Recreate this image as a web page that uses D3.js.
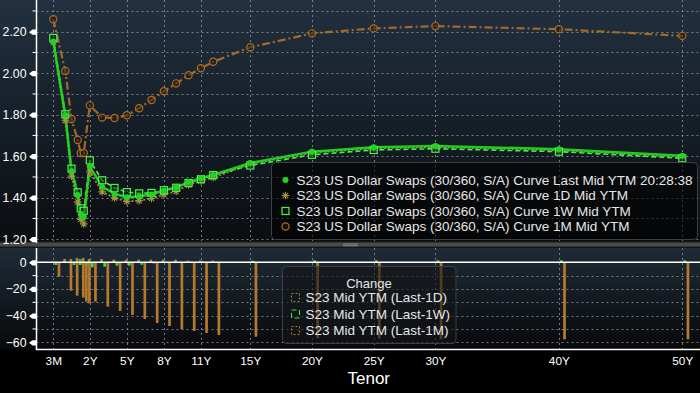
<!DOCTYPE html>
<html><head><meta charset="utf-8">
<script src="https://cdn.jsdelivr.net/npm/d3@7"></script>
<style>html,body{margin:0;padding:0;background:#000;} svg{display:block;} text{font-family:"Liberation Sans",Arial,sans-serif;}</style>
</head><body>
<svg id="c" width="700" height="393"></svg>
<script>
// ---------------- DATA ----------------
const tenorLabels = ["3M","6M","9M","1Y","15M","18M","2Y","3Y","4Y","5Y","6Y","7Y","8Y","9Y","10Y","11Y","12Y","15Y","20Y","25Y","30Y","40Y","50Y"];
const tenorYears  = [0.25,0.5,0.75,1,1.25,1.5,2,3,4,5,6,7,8,9,10,11,12,15,20,25,30,40,50];
const lastMid = [2.152,1.798,1.529,1.413,1.320,1.307,1.550,1.453,1.419,1.402,1.406,1.416,1.435,1.450,1.475,1.494,1.510,1.567,1.622,1.643,1.649,1.634,1.602];
const mid1D   = [2.149,1.773,1.504,1.380,1.295,1.274,1.525,1.428,1.399,1.382,1.386,1.396,1.415,1.430,1.462,1.481,1.497,1.562,1.617,1.638,1.644,1.629,1.597];
const mid1W   = [2.170,1.802,1.540,1.426,1.349,1.337,1.580,1.484,1.447,1.427,1.421,1.423,1.436,1.448,1.471,1.489,1.509,1.555,1.607,1.630,1.636,1.622,1.590];
const mid1M   = [2.260,2.011,1.779,1.678,1.615,1.615,1.845,1.786,1.784,1.797,1.831,1.871,1.913,1.951,1.990,2.024,2.055,2.125,2.192,2.216,2.227,2.212,2.180];
const chg1D = [0.3,2.5,2.5,3.3,2.5,3.3,2.5,2.5,2.0,2.0,2.0,2.0,2.0,2.0,1.3,1.3,1.3,0.5,0.5,0.5,0.5,0.5,0.5];
const chg1W = [-2.0,-0.4,-2.0,-2.0,-3.0,-3.0,-3.8,-3.3,-2.5,-2.5,-1.8,-0.8,-0.1,-0.5,0.4,0.5,0.1,1.2,1.5,1.5,1.5,1.5,1.5];
const chg1M = [-10.8,-21.3,-25.0,-26.5,-29.5,-30.8,-29.5,-33.3,-36.5,-39.5,-42.5,-45.5,-47.8,-50.1,-51.5,-53.0,-54.5,-55.8,-57.0,-57.3,-57.8,-57.8,-57.8];
const xTickYears  = [0.25,2,5,8,11,15,20,25,30,40,50];
const xTickLabels = ["3M","2Y","5Y","8Y","11Y","15Y","20Y","25Y","30Y","40Y","50Y"];
const yTopTicks = [1.2,1.4,1.6,1.8,2.0,2.2];
const yTopMinor = [1.3,1.5,1.7,1.9,2.1,2.3];
const yBotTicks = [0,-20,-40,-60];
const yBotMinor = [-10,-30,-50];
const curveLegend = ["S23 US Dollar Swaps (30/360, S/A) Curve Last Mid YTM 20:28:38",
  "S23 US Dollar Swaps (30/360, S/A) Curve 1D Mid YTM",
  "S23 US Dollar Swaps (30/360, S/A) Curve 1W Mid YTM",
  "S23 US Dollar Swaps (30/360, S/A) Curve 1M Mid YTM"];
const changeTitle = "Change";
const changeLegend = ["S23 Mid YTM (Last-1D)","S23 Mid YTM (Last-1W)","S23 Mid YTM (Last-1M)"];
const xTitle = "Tenor";

// ---------------- LAYOUT ----------------
const W=700,H=393;
const L=36.5, R=700, topY0=0, topY1=241, botY0=248, botY1=349.5;
const svg=d3.select("#c");
const defs=svg.append("defs");
function grad(id,stops){const g=defs.append("linearGradient").attr("id",id).attr("x1",0).attr("y1",0).attr("x2",0).attr("y2",1);stops.forEach(s=>g.append("stop").attr("offset",s[0]).attr("stop-color",s[1]));}
grad("bgTop",[[0,"#223040"],[0.5,"#161f28"],[1,"#0b0d10"]]);
grad("bgBot",[[0,"#1f2b36"],[1,"#08090b"]]);
defs.append("clipPath").attr("id","clipTop").append("rect").attr("x",L+0.5).attr("y",topY0).attr("width",R-L).attr("height",topY1-topY0);
defs.append("clipPath").attr("id","clipBot").append("rect").attr("x",L+0.5).attr("y",botY0).attr("width",R-L).attr("height",botY1-botY0);

svg.append("rect").attr("width",W).attr("height",H).attr("fill","#000");
svg.append("rect").attr("x",0).attr("y",topY0).attr("width",W).attr("height",topY1-topY0).attr("fill","url(#bgTop)");
svg.append("rect").attr("x",0).attr("y",botY0).attr("width",W).attr("height",botY1-botY0).attr("fill","url(#bgBot)");
// separator
svg.append("rect").attr("x",0).attr("y",241).attr("width",W).attr("height",7).attr("fill","#161616");
svg.append("rect").attr("x",0).attr("y",242.5).attr("width",W).attr("height",4).attr("fill","#4a4a4a");
[244,245.8].forEach(yy=>svg.append("line").attr("x1",343).attr("x2",358).attr("y1",yy).attr("y2",yy).attr("stroke","#9a9a9a").attr("stroke-width",0.8));

// ---------------- SCALES ----------------
const x=d3.scaleLinear().domain([0.25,0.5,1,2,50]).range([53.3,65.3,77.7,89.8,682.3]);
const yT=d3.scaleLinear().domain([1.2,2.2]).range([239.2,31.7]);
const yB=d3.scaleLinear().domain([-60,0]).range([342.3,262.3]);
const sub=d3.scaleBand().domain(["1D","1W","1M"]).range([-2,7]).paddingInner(0.15);

const gridC="#8d949c", gridDash="2,3";
const gGrid=svg.append("g");
d3.range(12).map(i=>+(1.2+i*0.1).toFixed(1)).forEach(v=>{
  gGrid.append("line").attr("x1",L).attr("x2",R).attr("y1",Math.round(yT(v))+0.5).attr("y2",Math.round(yT(v))+0.5)
   .attr("stroke",gridC).attr("stroke-dasharray",gridDash).attr("stroke-width",1).attr("opacity",0.8);
});
[-60,-50,-40,-30,-20,-10].forEach(v=>{
  gGrid.append("line").attr("x1",L).attr("x2",R).attr("y1",Math.round(yB(v))+0.5).attr("y2",Math.round(yB(v))+0.5)
   .attr("stroke",gridC).attr("stroke-dasharray",gridDash).attr("stroke-width",1).attr("opacity",0.8);
});
xTickYears.forEach(t=>{
  const xx=Math.round(x(t))+0.5;
  gGrid.append("line").attr("x1",xx).attr("x2",xx).attr("y1",topY0).attr("y2",topY1).attr("stroke",gridC).attr("stroke-dasharray",gridDash).attr("opacity",0.8);
  gGrid.append("line").attr("x1",xx).attr("x2",xx).attr("y1",botY0).attr("y2",botY1).attr("stroke",gridC).attr("stroke-dasharray",gridDash).attr("opacity",0.8);
});

// ---------------- BARS ----------------
const barSeries=[{key:"1D",vals:chg1D,color:"#8f8a4c"},{key:"1W",vals:chg1W,color:"#3ee03e"},{key:"1M",vals:chg1M,color:"#b67a2c"}];
const gBars=svg.append("g").attr("clip-path","url(#clipBot)");
barSeries.forEach(s=>{
  gBars.selectAll(null).data(s.vals).enter().append("rect")
   .attr("x",(d,i)=>x(tenorYears[i])+sub(s.key))
   .attr("width",sub.bandwidth())
   .attr("y",d=>Math.min(yB(d),yB(0)))
   .attr("height",d=>Math.abs(yB(d)-yB(0)))
   .attr("fill",s.color);
});
svg.append("line").attr("x1",L).attr("x2",R).attr("y1",yB(0)).attr("y2",yB(0)).attr("stroke","#fff").attr("stroke-width",1.5);

// ---------------- LINES ----------------
const series=[
 {key:"1M",vals:mid1M,color:"#a96f28",dash:"8,3,2,3",width:2.2,marker:"circle"},
 {key:"1D",vals:mid1D,color:"#a39640",dash:"2,2",width:1.8,marker:"star"},
 {key:"1W",vals:mid1W,color:"#55f055",dash:"5,3",width:1.6,marker:"square"},
 {key:"Last",vals:lastMid,color:"#22d422",dash:null,width:2.5,marker:"dot"}
];
const gLines=svg.append("g").attr("clip-path","url(#clipTop)");
const lineGen=d3.line().x((d,i)=>x(tenorYears[i])).y(d=>yT(d));
function drawMarker(g,type,color){
  if(type==="circle") g.append("circle").attr("r",3.6).attr("fill","rgba(40,25,5,0.5)").attr("stroke",color).attr("stroke-width",1.2);
  else if(type==="dot") g.append("circle").attr("r",3).attr("fill",color);
  else if(type==="square") g.append("rect").attr("x",-3.5).attr("y",-3.5).attr("width",7).attr("height",7).attr("fill","rgba(0,40,0,0.45)").attr("stroke",color).attr("stroke-width",1.2);
  else if(type==="star") g.append("path").attr("d","M-3.8,0H3.8M0,-3.8V3.8M-2.7,-2.7L2.7,2.7M-2.7,2.7L2.7,-2.7").attr("stroke",color).attr("stroke-width",1.1);
}
series.forEach(s=>{
  gLines.append("path").datum(s.vals).attr("d",lineGen).attr("fill","none").attr("stroke",s.color)
   .attr("stroke-width",s.width).attr("stroke-dasharray",s.dash).attr("stroke-linejoin","round").attr("opacity",0.95);
});
series.forEach(s=>{
  s.vals.forEach((v,i)=>{
    const g=gLines.append("g").attr("transform",`translate(${x(tenorYears[i])},${yT(v)})`);
    drawMarker(g,s.marker,s.color);
  });
});

// ---------------- AXES ----------------
svg.append("line").attr("x1",L).attr("x2",L).attr("y1",topY0).attr("y2",243).attr("stroke","#fff").attr("stroke-width",1.5);
svg.append("line").attr("x1",L).attr("x2",L).attr("y1",botY0).attr("y2",botY1).attr("stroke","#fff").attr("stroke-width",1.5);
svg.append("line").attr("x1",L-0.75).attr("x2",R).attr("y1",botY1).attr("y2",botY1).attr("stroke","#fff").attr("stroke-width",1.5);

function styleY(g){
  g.select(".domain").remove();
  g.selectAll(".tick text").attr("fill","#fff").style("font-size","12.3px").style("font-family","Liberation Sans, Arial, sans-serif");
  g.selectAll(".tick").append("path").attr("d","M-7.5,0L-4,-2.6H0V2.6H-4Z").attr("fill","#fff");
}
const gyT=svg.append("g").attr("transform",`translate(${L},0)`)
  .call(d3.axisLeft(yT).tickValues(yTopTicks).tickFormat(d3.format(".2f")).tickSize(0).tickPadding(10));
styleY(gyT);
const gyB=svg.append("g").attr("transform",`translate(${L},0)`)
  .call(d3.axisLeft(yB).tickValues(yBotTicks).tickFormat(d3.format("d")).tickSize(0).tickPadding(10));
styleY(gyB);
yTopMinor.forEach(v=>svg.append("line").attr("x1",L-4).attr("x2",L).attr("y1",yT(v)).attr("y2",yT(v)).attr("stroke","#fff"));
yBotMinor.forEach(v=>svg.append("line").attr("x1",L-4).attr("x2",L).attr("y1",yB(v)).attr("y2",yB(v)).attr("stroke","#fff"));

const gx=svg.append("g").attr("transform",`translate(0,${botY1})`)
  .call(d3.axisBottom(x).tickValues(xTickYears).tickFormat((d,i)=>xTickLabels[i]).tickSize(0));
gx.select(".domain").remove();
gx.selectAll(".tick text").attr("fill","#fff").attr("y",15).attr("dy",0).style("font-size","11.8px").style("font-family","Liberation Sans, Arial, sans-serif");
svg.append("text").attr("x",(L+R)/2+0.5).attr("y",384).attr("text-anchor","middle").attr("fill","#fff").style("font-size","17px").text(xTitle);

// ---------------- LEGENDS ----------------
const lg=svg.append("g");
lg.append("rect").attr("x",271.5).attr("y",162.5).attr("width",426).attr("height",77).attr("rx",4)
  .attr("fill","rgba(0,0,0,0.55)").attr("stroke","#3c4047");
const legOrder=[3,1,2,0];
curveLegend.forEach((t,i)=>{
  const yy=180+i*15.5;
  const s=series[legOrder[i]];
  const g=lg.append("g").attr("transform",`translate(285.5,${yy})`);
  drawMarker(g,s.marker,s.color);
  lg.append("text").attr("x",296.5).attr("y",yy).attr("dy","0.35em").attr("fill","#e6e6e6").style("font-size","13.5px").text(t);
});
const cg=svg.append("g");
cg.append("rect").attr("x",282.5).attr("y",266.5).attr("width",173.5).attr("height",77).attr("rx",4)
  .attr("fill","rgba(18,20,24,0.6)").attr("stroke","#3c4047");
cg.append("text").attr("x",369).attr("y",283.5).attr("dy","0.35em").attr("text-anchor","middle").attr("fill","#e6e6e6").style("font-size","13px").text(changeTitle);
changeLegend.forEach((t,i)=>{
  const yy=297.5+i*16.5;
  const s=barSeries[i];
  cg.append("rect").attr("x",291.5).attr("y",yy-4).attr("width",8).attr("height",8).attr("fill","none")
    .attr("stroke",s.color).attr("stroke-width",1.1).attr("stroke-dasharray",i===1?"5,3":"2,2");
  cg.append("text").attr("x",305.5).attr("y",yy).attr("dy","0.35em").attr("fill","#e6e6e6").style("font-size","13.5px").text(t);
});
</script>
</body></html>
